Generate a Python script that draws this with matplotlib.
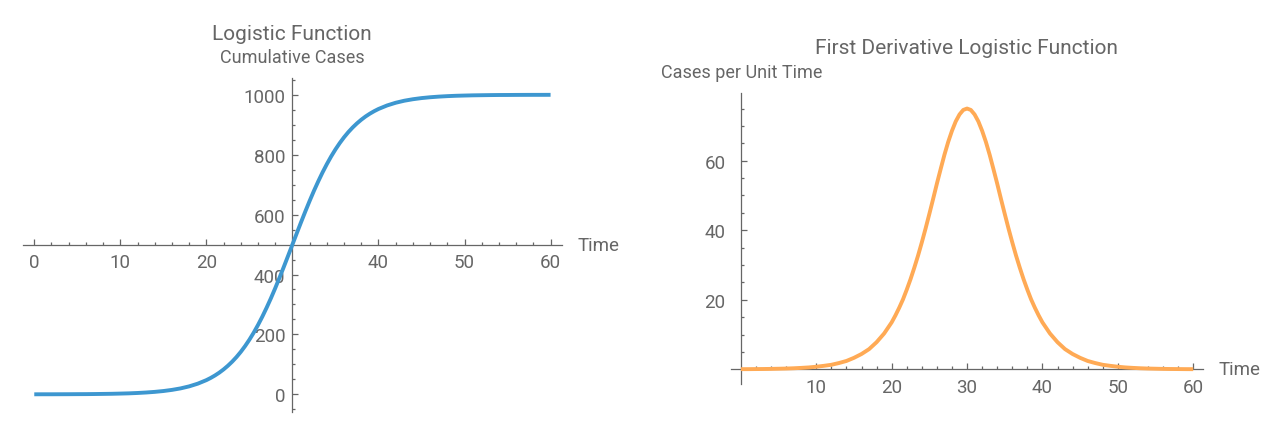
import matplotlib
matplotlib.use("Agg")
import matplotlib.pyplot as plt
from matplotlib.ticker import FixedLocator

# time steps (finer through the middle where they bend)
time = (list(range(0, 20))
        + [20 + 0.5 * i for i in range(41)]
        + list(range(41, 61)))

cumulative_cases = [
    0.1, 0.2, 0.2, 0.3, 0.4, 0.6, 0.7, 1.0, 1.4, 1.8,
    2.5, 3.3, 4.5, 6.1, 8.2, 11.0, 14.8, 19.8, 26.6, 35.6,
    47.4, 54.7, 63.0, 72.4, 83.2, 95.4, 109.1, 124.5, 141.8, 161.1,
    182.4, 205.8, 231.5, 259.2, 289.1, 320.7, 354.3, 389.4, 425.6, 462.6,
    500.0, 537.4, 574.4, 610.6, 645.7, 679.3, 710.9, 740.8, 768.5, 794.2,
    817.6, 838.9, 858.2, 875.5, 890.9, 904.6, 916.8, 927.6, 937.0, 945.3,
    952.6,
    964.4, 973.4, 980.2, 985.2, 989.0, 991.8, 993.9, 995.5, 996.7,
    997.5, 998.2, 998.6, 999.0, 999.3, 999.4, 999.6, 999.7, 999.8, 999.8,
    999.9,
]

cases_per_time = [
    0.04, 0.05, 0.07, 0.09, 0.12, 0.17, 0.22, 0.30, 0.41, 0.54,
    0.74, 1.0, 1.3, 1.8, 2.4, 3.3, 4.4, 5.8, 7.8, 10.3,
    13.5, 15.5, 17.7, 20.1, 22.9, 25.9, 29.2, 32.7, 36.5, 40.5,
    44.7, 49.0, 53.4, 57.6, 61.7, 65.4, 68.6, 71.3, 73.3, 74.6,
    75.0, 74.6, 73.3, 71.3, 68.6, 65.4, 61.7, 57.6, 53.4, 49.0,
    44.7, 40.5, 36.5, 32.7, 29.2, 25.9, 22.9, 20.1, 17.7, 15.5,
    13.5,
    10.3, 7.8, 5.8, 4.4, 3.3, 2.4, 1.8, 1.3, 1.0,
    0.74, 0.54, 0.41, 0.30, 0.22, 0.17, 0.12, 0.09, 0.07, 0.05,
    0.04,
]

left_xticks = [0, 10, 20, 40, 50, 60]
left_yticks = [0, 200, 400, 600, 800, 1000]
right_xticks = [10, 20, 30, 40, 50, 60]
right_yticks = [20, 40, 60]

text_color = "#666666"
axis_color = "#666666"
blue = "#3d97d0"
orange = "#ffaa55"

plt.rcParams["font.family"] = ["Roboto", "DejaVu Sans"]


def style_axes(ax, origin, ypad):
    for side in ["top", "right"]:
        ax.spines[side].set_visible(False)
    ax.spines["left"].set_position(("data", origin[0]))
    ax.spines["bottom"].set_position(("data", origin[1]))
    for side in ["left", "bottom"]:
        ax.spines[side].set_color(axis_color)
        ax.spines[side].set_linewidth(0.9)
    ax.tick_params(which="both", direction="in", color=axis_color,
                   labelcolor=text_color, labelsize=13.5, width=0.9)
    ax.tick_params(which="major", length=4.5)
    ax.tick_params(which="minor", length=2.5)
    ax.tick_params(axis="x", which="major", pad=6)
    ax.tick_params(axis="y", which="major", pad=ypad)
    ax.patch.set_alpha(0)


fig = plt.figure(figsize=(12.8, 4.35), dpi=100)

# left panel: logistic curve
ax1 = fig.add_axes([0.01797, 0.05126, 0.4209, 0.7664])
ax1.plot(time, cumulative_cases, color=blue, lw=2.8, zorder=3,
         solid_joinstyle="round", solid_capstyle="butt")
ax1.set_xlim(-1.31, 61.3)
ax1.set_ylim(-58, 1055)
style_axes(ax1, (30, 500), 5)
ax1.xaxis.set_major_locator(FixedLocator(left_xticks))
ax1.yaxis.set_major_locator(FixedLocator(left_yticks))
ax1.xaxis.set_minor_locator(FixedLocator(
    [v for v in range(2, 61, 2) if v % 10 != 0]))
ax1.yaxis.set_minor_locator(FixedLocator(
    [v for v in range(-50, 1051, 50) if v % 200 != 0 and v != 500]))
ax1.annotate("Time", xy=(61.3, 500), xytext=(11, 0),
             textcoords="offset points", color=text_color, fontsize=13.5,
             ha="left", va="center")

fig.text(292 / 1280, 1 - 35 / 435, "Logistic Function", color=text_color,
         fontsize=15, ha="center", va="center")
fig.text(292 / 1280, 1 - 58 / 435, "Cumulative Cases", color=text_color,
         fontsize=13, ha="center", va="center")

# right panel: first derivative
ax2 = fig.add_axes([0.5711, 0.1149, 0.36875, 0.669])
ax2.plot(time, cases_per_time, color=orange, lw=2.8, zorder=3,
         solid_joinstyle="round", solid_capstyle="butt")
ax2.set_xlim(-1.31, 61.3)
ax2.set_ylim(-4.23, 79.47)
style_axes(ax2, (0, 0), 11)
ax2.xaxis.set_major_locator(FixedLocator(right_xticks))
ax2.yaxis.set_major_locator(FixedLocator(right_yticks))
ax2.xaxis.set_minor_locator(FixedLocator(
    [v for v in range(2, 61, 2) if v % 10 != 0]))
ax2.yaxis.set_minor_locator(FixedLocator(
    [v for v in range(5, 80, 5) if v % 20 != 0]))
ax2.annotate("Time", xy=(61.3, 0), xytext=(11, 0),
             textcoords="offset points", color=text_color, fontsize=13.5,
             ha="left", va="center")

fig.text(966 / 1280, 1 - 49 / 435, "First Derivative Logistic Function",
         color=text_color, fontsize=15, ha="center", va="center")
fig.text(661 / 1280, 1 - 73 / 435, "Cases per Unit Time", color=text_color,
         fontsize=13, ha="left", va="center")

fig.savefig("out.png", dpi=100)
